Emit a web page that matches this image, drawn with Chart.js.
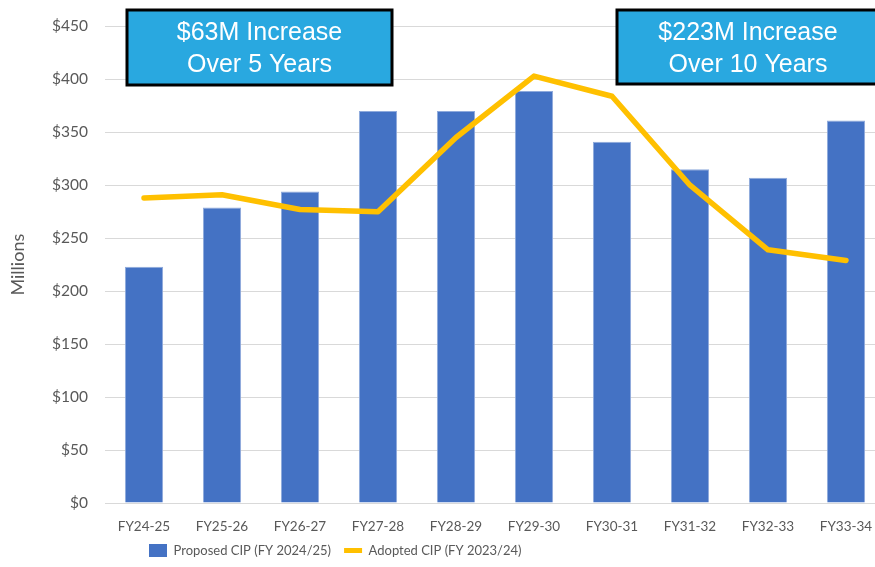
<!DOCTYPE html>
<html>
<head>
<meta charset="utf-8">
<script src="https://cdn.jsdelivr.net/npm/chart.js@4/dist/chart.umd.min.js"></script>
<style>
    html, body { margin: 0; padding: 0; background: #fff; overflow: hidden; }
    #wrap { width: 885px; height: 567px; position: relative; }
</style>
</head>
<body>
<div id="wrap"><canvas id="chart-cip"></canvas></div>
<script>
const categories = ["FY24-25", "FY25-26", "FY26-27", "FY27-28", "FY28-29", "FY29-30", "FY30-31", "FY31-32", "FY32-33", "FY33-34"];
const proposedCip = [223, 279, 294, 370, 370, 389, 341, 315, 307, 361];
const adoptedCip = [288, 291, 277, 275, 345, 403, 384, 300, 239, 229];
const yTicks = [0, 50, 100, 150, 200, 250, 300, 350, 400, 450];
const callouts = [
    { lines: ["$63M Increase", "Over 5 Years"], box: [127, 10, 392, 85] },
    { lines: ["$223M Increase", "Over 10 Years"], box: [617, 10, 879, 84] },
];

const grey = "#595959";
const font = "Lato, Carlito, Calibri, sans-serif";

// text boxes drawn over the plot
const calloutPlugin = {
    id: "callouts",
    afterDraw(chart) {
        const ctx = chart.ctx;
        ctx.save();
        callouts.forEach((c) => {
            const [x1, y1, x2, y2] = c.box;
            ctx.fillStyle = "#29A8E0";
            ctx.fillRect(x1, y1, x2 - x1, y2 - y1);
            ctx.lineWidth = 3;
            ctx.strokeStyle = "#000";
            ctx.strokeRect(x1, y1, x2 - x1, y2 - y1);
            ctx.fillStyle = "#fff";
            ctx.font = "25px 'Liberation Sans', Arial, sans-serif";
            ctx.textAlign = "center";
            ctx.textBaseline = "middle";
            const cx = (x1 + x2) / 2;
            ctx.fillText(c.lines[0], cx, y1 + 23);
            ctx.fillText(c.lines[1], cx, y1 + 55);
        });
        ctx.restore();
    },
};

// legend sits left of centre in the original
const legendShift = {
    id: "legendShift",
    afterLayout(chart) {
        chart.legend.left = 146;
    },
};

const chartCip = new Chart(document.getElementById("chart-cip"), {
    data: {
        labels: categories,
        datasets: [
            {
                type: "line",
                label: "Adopted CIP (FY 2023/24)",
                data: adoptedCip,
                borderColor: "#FFC000",
                backgroundColor: "#FFC000",
                borderWidth: 5.5,
                pointRadius: 0,
                tension: 0,
                borderCapStyle: "round",
                borderJoinStyle: "round",
                order: 0,
            },
            {
                type: "bar",
                label: "Proposed CIP (FY 2024/25)",
                data: proposedCip,
                backgroundColor: "#4472C4",
                borderColor: "#8FAADC",
                borderWidth: 1,
                barPercentage: 0.49,
                categoryPercentage: 1,
                order: 1,
            },
        ],
    },
    options: {
        responsive: true,
        maintainAspectRatio: false,
        animation: false,
        layout: { padding: { top: 24, left: 0, right: 0, bottom: 0 } },
        plugins: {
            tooltip: { enabled: false },
            legend: {
                position: "bottom",
                align: "start",
                reverse: true,
                labels: {
                    color: grey,
                    font: { family: font, size: 13 },
                    padding: 3,
                    boxWidth: 18,
                    boxHeight: 13,
                    usePointStyle: true,
                    pointStyleWidth: 18,
                    generateLabels: (chart) =>
                        chart.data.datasets.map((ds, i) => ({
                            text: ds.type === "bar" ? ds.label + "   " : ds.label,
                            datasetIndex: i,
                            fillStyle: ds.backgroundColor,
                            strokeStyle: ds.type === "line" ? ds.borderColor : ds.backgroundColor,
                            lineWidth: ds.type === "line" ? 5 : 0,
                            pointStyle: ds.type === "line" ? "line" : "rect",
                            fontColor: grey,
                            hidden: false,
                        })),
                },
            },
        },
        scales: {
            x: {
                grid: { display: false },
                border: { display: true, color: "#D9D9D9" },
                afterFit: (scale) => {
                    scale.height = 38;
                },
                ticks: {
                    color: grey,
                    font: { family: font, size: 13.5 },
                    padding: 8,
                    maxRotation: 0,
                },
            },
            y: {
                min: 0,
                max: 450,
                afterBuildTicks: (scale) => {
                    scale.ticks = yTicks.map((v) => ({ value: v }));
                },
                afterFit: (scale) => {
                    scale.width = 105;
                },
                grid: { color: "#D9D9D9", drawTicks: false },
                border: { display: false },
                ticks: {
                    color: grey,
                    font: { family: font, size: 15.5 },
                    padding: 17,
                    callback: (v) => "$" + v,
                },
                title: {
                    display: true,
                    text: "Millions",
                    color: grey,
                    font: { family: font, size: 18 },
                    padding: { top: 7, bottom: 0 },
                },
            },
        },
    },
    plugins: [calloutPlugin, legendShift],
});
</script>
</body>
</html>
